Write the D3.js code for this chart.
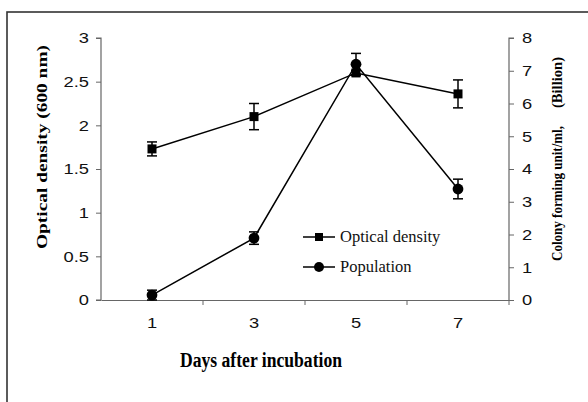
<!DOCTYPE html>
<html><head><meta charset="utf-8">
<script src="https://cdn.jsdelivr.net/npm/d3@7"></script>
<style>body{margin:0;background:#fff}svg{display:block}</style>
</head><body>
<svg id="c" width="588" height="402"></svg>
<script>
const days = ["1", "3", "5", "7"];
const odValues = [1.73, 2.10, 2.60, 2.36];
const odErrors = [0.08, 0.15, 0.03, 0.16];
const popValues = [0.15, 1.89, 7.2, 3.39];
const popErrors = [0.15, 0.19, 0.33, 0.3];
const leftTicks = [0, 0.5, 1, 1.5, 2, 2.5, 3];
const rightTicks = [0, 1, 2, 3, 4, 5, 6, 7, 8];
const seriesNames = ["Optical density", "Population"];

const svg = d3.select("#c");
const L = 101, R = 509, T = 38, B = 300;
const axisColor = "#666";
const sans = "Arial, 'Liberation Sans', sans-serif";
const serif = "'Liberation Serif', 'Times New Roman', serif";

// outer frame
svg.append("rect").attr("x", 7).attr("y", 12).attr("width", 600).attr("height", 420)
  .attr("fill", "none").attr("stroke", "#333").attr("stroke-width", 1.6);

const x = d3.scaleBand().domain(days).range([L, R]);
const yL = d3.scaleLinear().domain([0, 3]).range([B, T]);
const yR = d3.scaleLinear().domain([0, 8]).range([B, T]);
const cx = d => x(d) + x.bandwidth() / 2;

const gL = svg.append("g").attr("transform", `translate(${L},0)`)
  .call(d3.axisLeft(yL).tickValues(leftTicks).tickSize(5).tickPadding(7).tickFormat(d3.format("")));
const gR = svg.append("g").attr("transform", `translate(${R},0)`)
  .call(d3.axisRight(yR).tickValues(rightTicks).tickSize(5).tickPadding(8).tickFormat(d3.format("")));
const gB = svg.append("g").attr("transform", `translate(0,${B})`)
  .call(d3.axisBottom(x).tickSize(0).tickPadding(17));
gB.selectAll(".tick line").remove();
gB.append("g").selectAll("line").data(days.slice(1).concat(["__end"]))
  .join("line")
  .attr("x1", d => d === "__end" ? R : x(d)).attr("x2", d => d === "__end" ? R : x(d))
  .attr("y1", 0).attr("y2", 5).attr("stroke", axisColor);

[gL, gR, gB].forEach(g => {
  g.attr("font-size", null).attr("font-family", null);
  g.select(".domain").attr("stroke", axisColor).attr("stroke-width", 1.2);
  g.selectAll(".tick line").attr("stroke", axisColor);
  g.selectAll(".tick text").style("font-family", sans).style("font-size", "15px").attr("fill", "#111")
    .each(function () {
      const w = this.getComputedTextLength();
      d3.select(this).attr("textLength", w * 1.22).attr("lengthAdjust", "spacingAndGlyphs");
    });
});
gL.select(".domain").attr("d", `M-5,${T}H0V${B}H-5`);
gR.select(".domain").attr("d", `M5,${T}H0V${B}`);

// lines
const lineOD = d3.line().x((d, i) => cx(days[i])).y(d => yL(d));
const linePop = d3.line().x((d, i) => cx(days[i])).y(d => yR(d));
svg.append("path").attr("d", lineOD(odValues)).attr("fill", "none").attr("stroke", "#000").attr("stroke-width", 1.5);
svg.append("path").attr("d", linePop(popValues)).attr("fill", "none").attr("stroke", "#000").attr("stroke-width", 1.5);

// error bars
function errBars(vals, errs, y) {
  const g = svg.append("g").attr("stroke", "#000").attr("stroke-width", 1.5);
  vals.forEach((v, i) => {
    const px = cx(days[i]), y1 = y(v + errs[i]), y2 = y(v - errs[i]);
    g.append("line").attr("x1", px).attr("x2", px).attr("y1", y1).attr("y2", y2);
    g.append("line").attr("x1", px - 5).attr("x2", px + 5).attr("y1", y1).attr("y2", y1);
    g.append("line").attr("x1", px - 5).attr("x2", px + 5).attr("y1", y2).attr("y2", y2);
  });
}
errBars(odValues, odErrors, yL);
errBars(popValues, popErrors, yR);

// markers
svg.append("g").selectAll("rect").data(odValues).join("rect")
  .attr("x", (d, i) => cx(days[i]) - 4.5).attr("y", d => yL(d) - 4.5)
  .attr("width", 9).attr("height", 9).attr("fill", "#000");
svg.append("g").selectAll("circle").data(popValues).join("circle")
  .attr("cx", (d, i) => cx(days[i])).attr("cy", d => yR(d)).attr("r", 5.4).attr("fill", "#000");

// legend
const lg = svg.append("g");
seriesNames.forEach((name, i) => {
  const ly = 237 + i * 30;
  lg.append("line").attr("x1", 303).attr("x2", 335).attr("y1", ly).attr("y2", ly).attr("stroke", "#000").attr("stroke-width", 1.5);
  if (i === 0) lg.append("rect").attr("x", 315).attr("y", ly - 4).attr("width", 8).attr("height", 8).attr("fill", "#000");
  else lg.append("circle").attr("cx", 319).attr("cy", ly).attr("r", 5).attr("fill", "#000");
  lg.append("text").attr("x", 340).attr("y", ly + 5).text(name)
    .attr("font-family", serif).attr("font-size", 16.5).attr("fill", "#111");
});

// axis titles
svg.append("text").attr("x", 261).attr("y", 367).attr("text-anchor", "middle")
  .attr("font-family", serif).attr("font-weight", "bold").attr("font-size", 20.5)
  .attr("textLength", 162).attr("lengthAdjust", "spacingAndGlyphs")
  .text("Days after incubation");
svg.append("text").attr("transform", "translate(47,147) rotate(-90)").attr("text-anchor", "middle")
  .attr("font-family", serif).attr("font-weight", "bold").attr("font-size", 15)
  .attr("textLength", 204).attr("lengthAdjust", "spacingAndGlyphs")
  .text("Optical density (600 nm)");
svg.append("text").attr("transform", "translate(562,193.5) rotate(-90)").attr("text-anchor", "middle")
  .attr("font-family", serif).attr("font-weight", "bold").attr("font-size", 15)
  .attr("textLength", 135).attr("lengthAdjust", "spacingAndGlyphs")
  .text("Colony forming unit/ml,");
svg.append("text").attr("transform", "translate(562,82.5) rotate(-90)").attr("text-anchor", "middle")
  .attr("font-family", serif).attr("font-weight", "bold").attr("font-size", 15)
  .attr("textLength", 51).attr("lengthAdjust", "spacingAndGlyphs")
  .text("(Billion)");
</script>
</body></html>
